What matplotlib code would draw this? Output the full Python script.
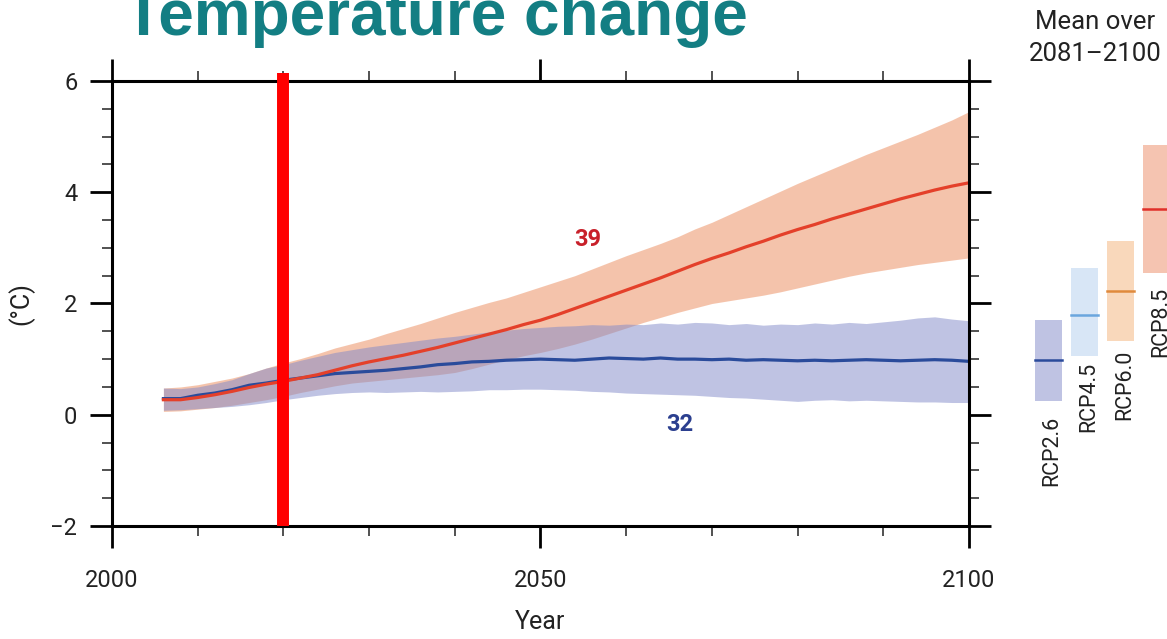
import matplotlib
matplotlib.use("Agg")
import matplotlib.pyplot as plt
import numpy as np

plt.rcParams['font.family'] = ['Roboto', 'DejaVu Sans']

# projected global mean surface temperature change (relative to 1986-2005)
years = np.arange(2006, 2101, 2)

rcp26_mean = [0.29, 0.29, 0.35, 0.39, 0.45, 0.53, 0.57, 0.62, 0.66, 0.70, 0.74, 0.76,
              0.78, 0.80, 0.83, 0.86, 0.90, 0.92, 0.95, 0.96, 0.98, 0.99, 1.00,
              0.99, 0.98, 1.00, 1.02, 1.01, 1.00, 1.02, 1.00, 1.00, 0.99, 1.00, 0.98,
              0.99, 0.98, 0.97, 0.98, 0.97, 0.98, 0.99, 0.98, 0.97, 0.98, 0.99, 0.98, 0.96]
rcp26_high = [0.48, 0.47, 0.50, 0.56, 0.63, 0.74, 0.84, 0.90, 0.98, 1.05, 1.12, 1.17,
              1.22, 1.26, 1.30, 1.34, 1.38, 1.41, 1.45, 1.49, 1.52, 1.55, 1.57,
              1.59, 1.60, 1.62, 1.61, 1.63, 1.62, 1.65, 1.63, 1.66, 1.65, 1.62, 1.64,
              1.61, 1.63, 1.62, 1.65, 1.63, 1.66, 1.64, 1.67, 1.70, 1.74, 1.76, 1.72, 1.69]
rcp26_low = [0.08, 0.09, 0.11, 0.13, 0.15, 0.18, 0.22, 0.27, 0.31, 0.35, 0.38, 0.40,
             0.41, 0.40, 0.41, 0.42, 0.41, 0.42, 0.43, 0.45, 0.45, 0.46, 0.46,
             0.45, 0.44, 0.42, 0.41, 0.39, 0.38, 0.37, 0.36, 0.35, 0.33, 0.31, 0.30,
             0.28, 0.26, 0.24, 0.26, 0.27, 0.25, 0.26, 0.25, 0.24, 0.23, 0.23, 0.22, 0.22]

rcp85_mean = [0.27, 0.27, 0.31, 0.36, 0.42, 0.49, 0.55, 0.60, 0.66, 0.72, 0.80, 0.88,
              0.95, 1.01, 1.07, 1.14, 1.21, 1.29, 1.37, 1.45, 1.53, 1.62, 1.70,
              1.80, 1.91, 2.02, 2.13, 2.24, 2.35, 2.46, 2.58, 2.70, 2.81, 2.91, 3.02,
              3.12, 3.23, 3.33, 3.42, 3.52, 3.61, 3.70, 3.79, 3.88, 3.96, 4.04, 4.11, 4.17]
rcp85_high = [0.48, 0.50, 0.54, 0.60, 0.66, 0.74, 0.84, 0.93, 1.01, 1.10, 1.20, 1.28,
              1.36, 1.46, 1.55, 1.64, 1.74, 1.84, 1.93, 2.02, 2.10, 2.20, 2.30,
              2.40, 2.50, 2.62, 2.74, 2.86, 2.97, 3.08, 3.20, 3.34, 3.46, 3.60, 3.74,
              3.88, 4.02, 4.16, 4.29, 4.42, 4.55, 4.68, 4.80, 4.92, 5.04, 5.17, 5.30, 5.45]
rcp85_low = [0.06, 0.07, 0.10, 0.13, 0.17, 0.22, 0.27, 0.33, 0.40, 0.46, 0.52, 0.57,
             0.60, 0.63, 0.66, 0.69, 0.72, 0.76, 0.83, 0.91, 0.99, 1.06, 1.12,
             1.19, 1.27, 1.36, 1.46, 1.56, 1.66, 1.75, 1.84, 1.92, 2.00, 2.05, 2.10,
             2.15, 2.21, 2.28, 2.35, 2.42, 2.49, 2.55, 2.60, 2.65, 2.70, 2.74, 2.78, 2.82]

# number of models per scenario
n_models = {'RCP8.5': 39, 'RCP2.6': 32}

# mean and likely range over 2081-2100
scenarios = ['RCP2.6', 'RCP4.5', 'RCP6.0', 'RCP8.5']
period_low = [0.25, 1.05, 1.32, 2.55]
period_high = [1.71, 2.64, 3.13, 4.85]
period_mean = [0.98, 1.80, 2.22, 3.70]
bar_fill = ['#bfc3e3', '#d8e6f6', '#f9d8bb', '#f5c4b1']
bar_line = ['#2a4b9b', '#6aa6de', '#e08a3c', '#e0302a']
label_gap = [11, 4, 6, 10]  # points between bar bottom and its label

today = 2020
txt = '#222222'

fig = plt.figure(figsize=(11.67, 6.39), dpi=100)
ax = fig.add_axes([0.09597, 0.17684, 0.73436, 0.6964])

ax.fill_between(years, rcp85_low, rcp85_high, color='#eb8959', alpha=0.5, lw=0)
ax.fill_between(years, rcp26_low, rcp26_high, color='#8089c9', alpha=0.5, lw=0)
ax.plot(years, rcp26_mean, color='#2a4b9b', lw=2.3)
ax.plot(years, rcp85_mean, color='#e4402a', lw=2.3)

ax.plot([today, today], [-2, 6.15], color='#ff0000', lw=8.6, clip_on=False,
        solid_capstyle='butt', zorder=5)

ax.text(2055.5, 3.15, str(n_models['RCP8.5']), color='#c8202a', fontsize=17,
        fontweight='bold', ha='center', va='center')
ax.text(2066.2, -0.18, str(n_models['RCP2.6']), color='#2b3f8f', fontsize=17,
        fontweight='bold', ha='center', va='center')

ax.set_xlim(2000, 2100)
ax.set_ylim(-2, 6)
ax.set_xticks([2000, 2050, 2100])
ax.set_xticks(np.arange(2000, 2101, 10), minor=True)
ax.set_yticks([-2, 0, 2, 4, 6])
ax.set_yticks(np.arange(-2, 6.01, 0.5), minor=True)
ax.set_yticklabels(['\u22122', '0', '2', '4', '6'])
ax.tick_params(which='both', direction='out', top=True, right=True,
               labeltop=False, labelright=False, labelsize=17, colors=txt)
ax.tick_params(which='major', length=16, width=2.0, color='black')
ax.tick_params(axis='x', which='major', pad=15)
ax.tick_params(axis='y', which='major', pad=9)
ax.tick_params(which='minor', length=7, width=1.2, color='#333333')
for s in ax.spines.values():
    s.set_linewidth(2.2)
ax.set_xlabel('Year', fontsize=18, color=txt, labelpad=13)
ax.set_ylabel('(\u00b0C)', fontsize=18, color=txt)
ax.yaxis.set_label_coords(-0.09, 0.5)

# side panel with the 2081-2100 ranges
ax2 = fig.add_axes([1030 / 1167, 0.17684, 137 / 1167, 0.6964])
ax2.set_ylim(-2, 6)
ax2.set_xlim(-0.5, 3.29)
ax2.axis('off')
for i, name in enumerate(scenarios):
    ax2.bar(i, period_high[i] - period_low[i], bottom=period_low[i], width=0.75,
            color=bar_fill[i], lw=0)
    ax2.plot([i - 0.375, i + 0.375], [period_mean[i], period_mean[i]],
             color=bar_line[i], lw=1.8)
    ax2.annotate(name, (i, period_low[i]), xytext=(3, -label_gap[i]),
                 textcoords='offset points', rotation=90, ha='center', va='top',
                 fontsize=15.5, color=txt, annotation_clip=False)

fig.text(1095 / 1167, 1 - 38 / 639, 'Mean over\n2081\u20132100', ha='center',
         va='center', fontsize=18.5, color=txt, linespacing=1.4)

fig.text(124 / 1167, 1 - 35 / 639, 'Temperature change', ha='left',
         va='baseline', fontsize=46, fontweight='bold', color='#137e83',
         family=['Liberation Sans', 'DejaVu Sans'])

fig.savefig('out.png', dpi=100)
